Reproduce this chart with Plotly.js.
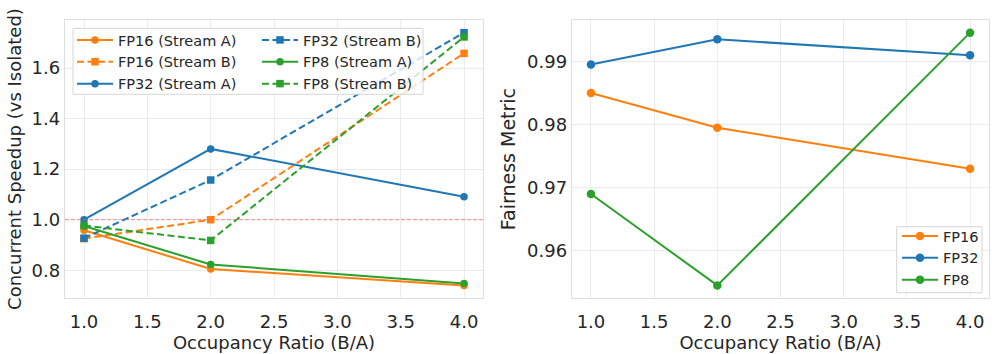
<!DOCTYPE html>
<html>
<head>
<meta charset="utf-8">
<script src="https://cdn.plot.ly/plotly-3.0.1.min.js"></script>
<style>
  html, body { margin: 0; padding: 0; background: #fff; }
  #chart { width: 997px; height: 354px; }
</style>
</head>
<body>
<div id="chart"></div>
<script>
// occupancy ratios (B/A)
const ratios = [1.0, 2.0, 4.0];

// concurrent speedup vs isolated
const fp16StreamA = [0.958, 0.805, 0.740];
const fp16StreamB = [0.925, 1.000, 1.658];
const fp32StreamA = [1.000, 1.280, 1.091];
const fp32StreamB = [0.927, 1.157, 1.740];
const fp8StreamA = [0.975, 0.823, 0.748];
const fp8StreamB = [0.977, 0.918, 1.723];

// fairness metric
const fairFP16 = [0.98505, 0.97953, 0.97301];
const fairFP32 = [0.98960, 0.99359, 0.99106];
const fairFP8 = [0.96900, 0.95446, 0.99465];

const ORANGE = '#ff7f0e';
const BLUE = '#1f77b4';
const GREEN = '#2ca02c';
const FONT = 'DejaVu Sans, sans-serif';

function speedTrace(y, name, color, dashed, legendId) {
    return {
        x: ratios, y: y, name: name,
        type: 'scatter', mode: 'lines+markers',
        line: { color: color, width: 2, dash: dashed ? '7px,3.5px' : 'solid' },
        marker: { color: color, size: 7.5, symbol: dashed ? 'square' : 'circle' },
        xaxis: 'x', yaxis: 'y', legend: legendId
    };
}

function fairTrace(y, name, color) {
    return {
        x: ratios, y: y, name: name,
        type: 'scatter', mode: 'lines+markers',
        line: { color: color, width: 2 },
        marker: { color: color, size: 8.5 },
        xaxis: 'x2', yaxis: 'y2', legend: 'legend2'
    };
}

// left legend is split into two columns: legend (col 1) and legend3 (col 2)
const traces = [
    speedTrace(fp16StreamA, 'FP16 (Stream A)', ORANGE, false, 'legend'),
    speedTrace(fp16StreamB, 'FP16 (Stream B)', ORANGE, true, 'legend'),
    speedTrace(fp32StreamA, 'FP32 (Stream A)', BLUE, false, 'legend'),
    speedTrace(fp32StreamB, 'FP32 (Stream B)', BLUE, true, 'legend3'),
    speedTrace(fp8StreamA, 'FP8 (Stream A)', GREEN, false, 'legend3'),
    speedTrace(fp8StreamB, 'FP8 (Stream B)', GREEN, true, 'legend3'),
    fairTrace(fairFP16, 'FP16', ORANGE),
    fairTrace(fairFP32, 'FP32', BLUE),
    fairTrace(fairFP8, 'FP8', GREEN)
];

const axisBase = {
    showgrid: true, gridcolor: '#ebebeb', gridwidth: 1,
    showline: true, linecolor: '#dedede', linewidth: 1.2, mirror: true,
    zeroline: false, ticks: '',
    tickfont: { family: FONT, size: 18, color: '#262626' },
    title: { font: { family: FONT, size: 18, color: '#262626' } }
};

function ax(extra) {
    const a = JSON.parse(JSON.stringify(axisBase));
    Object.assign(a, extra);
    a.title = Object.assign({}, axisBase.title, extra.title || {});
    return a;
}

const xTicks = [1, 1.5, 2, 2.5, 3, 3.5, 4];
const xTickText = ['1.0', '1.5', '2.0', '2.5', '3.0', '3.5', '4.0'];

const legendFont = { family: FONT, size: 14.5, color: '#262626' };
function legendAt(x, yTop) {
    return {
        x: x / 997, y: 1 - yTop / 354, xanchor: 'left', yanchor: 'top',
        bgcolor: 'rgba(0,0,0,0)', borderwidth: 0,
        font: legendFont, itemwidth: 36, traceorder: 'normal'
    };
}

const layout = {
    width: 997, height: 354,
    margin: { l: 0, r: 0, t: 0, b: 0 },
    paper_bgcolor: '#fff', plot_bgcolor: '#fff',
    font: { family: FONT, color: '#262626' },
    xaxis: ax({
        domain: [0.0652, 0.4845], anchor: 'y',
        range: [0.85, 4.15], tickvals: xTicks, ticktext: xTickText,
        ticklabelstandoff: 7,
        title: { text: 'Occupancy Ratio (B/A)', standoff: 4 }
    }),
    yaxis: ax({
        domain: [0.158, 0.9435], anchor: 'x',
        range: [0.69, 1.79], tickvals: [0.8, 1.0, 1.2, 1.4, 1.6],
        ticktext: ['0.8', '1.0', '1.2', '1.4', '1.6'],
        title: { text: 'Concurrent Speedup (vs Isolated)', standoff: 5 }
    }),
    xaxis2: ax({
        domain: [0.5737, 0.992], anchor: 'y2',
        range: [0.85, 4.15], tickvals: xTicks, ticktext: xTickText,
        ticklabelstandoff: 7,
        title: { text: 'Occupancy Ratio (B/A)', standoff: 4 }
    }),
    yaxis2: ax({
        domain: [0.158, 0.9435], anchor: 'x2',
        range: [0.95245, 0.99666], tickvals: [0.96, 0.97, 0.98, 0.99],
        ticktext: ['0.96', '0.97', '0.98', '0.99'],
        title: { text: 'Fairness Metric', font: { family: FONT, size: 19, color: '#262626' }, standoff: 6 }
    }),
    shapes: [
        {
            type: 'line', xref: 'x domain', yref: 'y',
            x0: 0, x1: 1, y0: 1.0, y1: 1.0,
            line: { color: 'rgba(240,100,100,0.7)', width: 1, dash: '4px,2px' }
        },
        {
            type: 'rect', xref: 'paper', yref: 'paper', layer: 'above',
            x0: 73 / 997, x1: 423 / 997, y0: 1 - 94.3 / 354, y1: 1 - 28.3 / 354,
            fillcolor: 'rgba(255,255,255,0.8)', line: { color: '#d6d6d6', width: 1 }
        },
        {
            type: 'rect', xref: 'paper', yref: 'paper', layer: 'above',
            x0: 896.7 / 997, x1: 982 / 997, y0: 1 - 292.7 / 354, y1: 1 - 226.7 / 354,
            fillcolor: 'rgba(255,255,255,0.8)', line: { color: '#d6d6d6', width: 1 }
        }
    ],
    legend: legendAt(72, 24),
    legend3: legendAt(257, 24),
    legend2: legendAt(897, 220),
    showlegend: true
};

Plotly.newPlot('chart', traces, layout, { displayModeBar: false, staticPlot: true });
</script>
</body>
</html>
